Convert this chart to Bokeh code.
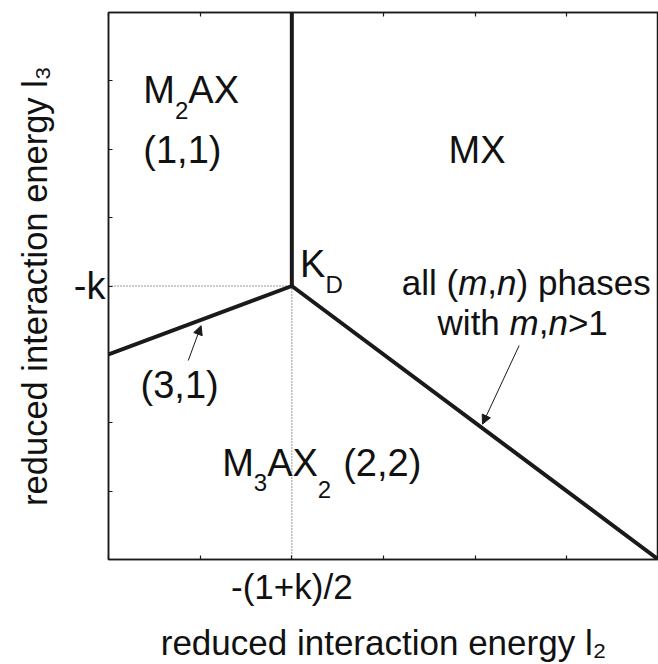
from bokeh.plotting import figure
from bokeh.models import Range1d, FixedTicker, LinearAxis, Label, Arrow, NormalHead
from bokeh.embed import file_html
from bokeh.resources import INLINE

# ---------------- data ----------------
x_ticks = [0, 1, 2, 3, 4, 5, 6]
y_ticks = [0, 1, 2, 3, 4, 5, 6, 7, 8]
x_tick_text = {2: "-(1+k)/2"}
y_tick_text = {4: "-k"}
x_title = "reduced interaction energy l\u2082"
y_title = "reduced interaction energy l\u2083"

# phase boundaries (reduced coordinates)
b31_x = [0, 2]   # (3,1) boundary
b31_y = [3, 4]
b11_x = [2, 2]   # M2AX / MX boundary
b11_y = [4, 8]
bmn_x = [2, 6]   # all (m,n) phases boundary
bmn_y = [4, 0]
guide_h_x = [0, 2]
guide_h_y = [4, 4]
guide_v_x = [2, 2]
guide_v_y = [0, 4]

FONT = "Liberation Sans"
INK = "#1a1a1a"
TXT = "#111111"

p = figure(width=658, height=664, x_range=Range1d(0, 6), y_range=Range1d(0, 8),
           output_backend="svg", toolbar_location=None,
           min_border_left=108, min_border_right=0, min_border_top=12, min_border_bottom=102)
p.xgrid.visible = False
p.ygrid.visible = False
p.outline_line_color = INK
p.outline_line_width = 1.5
p.background_fill_color = "white"
p.border_fill_color = "white"

for ax, ticks, txt in ((p.xaxis[0], x_ticks, x_tick_text), (p.yaxis[0], y_ticks, y_tick_text)):
    ax.ticker = FixedTicker(ticks=ticks, minor_ticks=[])
    ax.major_label_overrides = {t: txt.get(t, "") for t in ticks}
    ax.major_tick_in = 4
    ax.major_tick_out = 0
    ax.minor_tick_line_color = None
    ax.axis_line_color = INK
    ax.axis_line_width = 1.5
    ax.major_tick_line_color = INK
    ax.major_tick_line_width = 1.2
    ax.major_label_text_font = FONT
    ax.major_label_text_color = TXT
    ax.axis_label_text_font = FONT
    ax.axis_label_text_font_style = "normal"
    ax.axis_label_text_color = TXT

p.xaxis.axis_label = x_title
p.yaxis.axis_label = y_title
p.xaxis.axis_label_text_font_size = "35px"
p.yaxis.axis_label_text_font_size = "34.5px"
p.xaxis.major_label_text_font_size = "35px"
p.xaxis.major_label_standoff = 7
p.xaxis.axis_label_standoff = 14
p.yaxis.major_label_text_font_size = "38px"
p.yaxis.major_label_standoff = 3
p.yaxis.axis_label_standoff = 17

top = LinearAxis(ticker=FixedTicker(ticks=x_ticks, minor_ticks=[]), major_tick_in=4, major_tick_out=0,
                 minor_tick_line_color=None, axis_line_color=INK, axis_line_width=1.5,
                 major_tick_line_color=INK, major_tick_line_width=1.2,
                 major_label_text_font_size="0px", major_label_standoff=0,
                 major_label_overrides={t: "" for t in x_ticks})
p.add_layout(top, "above")

# guides
p.line(guide_h_x, guide_h_y, line_color="#333333", line_width=1, line_dash="1 2")
p.line(guide_v_x, guide_v_y, line_color="#333333", line_width=1, line_dash="1 2")
# boundaries
for bx, by in ((b31_x, b31_y), (b11_x, b11_y), (bmn_x, bmn_y)):
    p.line(bx, by, line_color=INK, line_width=4, line_cap="round")

# arrows
p.add_layout(Arrow(x_start=0.87, y_start=2.91, x_end=1.01, y_end=3.42, line_color=INK, line_width=1,
                   end=NormalHead(size=9, fill_color=INK, line_color=INK, line_width=1)))
p.add_layout(Arrow(x_start=4.48, y_start=3.13, x_end=4.08, y_end=1.98, line_color=INK, line_width=1,
                   end=NormalHead(size=9, fill_color=INK, line_color=INK, line_width=1)))

# ---------------- rich text helper ----------------
W = {'a': 556, 'b': 556, 'c': 500, 'd': 556, 'e': 556, 'f': 278, 'g': 556, 'h': 556, 'i': 222,
     'k': 500, 'l': 222, 'm': 833, 'n': 556, 'o': 556, 'p': 556, 'r': 333, 's': 500, 't': 278,
     'u': 556, 'w': 722, 'y': 500, 'A': 667, 'D': 722, 'K': 667, 'M': 833, 'X': 667, ' ': 278,
     '(': 333, ')': 333, ',': 278, '>': 584, '1': 556, '2': 556, '3': 556}


def width(s, size):
    return sum(W.get(c, 556) for c in s) * size / 1000.0


def rich(x, y, pieces):
    """pieces: (text, size px, italic, baseline drop px); (x, y) is the baseline start."""
    adv = 0.0
    for txt, size, italic, drop in pieces:
        p.add_layout(Label(x=x, y=y, x_offset=adv, y_offset=-drop + 0.3465 * size, text=txt,
                           text_font=FONT, text_font_size=f"{size}px",
                           text_font_style="italic" if italic else "normal",
                           text_color=TXT, text_align="left", text_baseline="middle"))
        adv += width(txt, size)


S, s = 38, 24
rich(0.38, 6.68, [("M", S, False, 0), ("2", s, False, 16), ("AX", S, False, 0)])
rich(0.38, 5.80, [("(1,1)", S, False, 0)])
rich(3.71, 5.80, [("MX", S, False, 0)])
rich(2.09, 4.13, [("K", S, False, 0), ("D", s, False, 16)])
rich(3.20, 3.88, [("all (", 35, False, 0), ("m", 35, True, 0), (",", 35, False, 0),
                  ("n", 35, True, 0), (") phases", 35, False, 0)])
rich(3.59, 3.29, [("with ", 35, False, 0), ("m", 35, True, 0), (",", 35, False, 0),
                  ("n", 35, True, 0), (">1", 35, False, 0)])
rich(0.35, 2.36, [("(3,1)", S, False, 0)])
rich(1.24, 1.22, [("M", S, False, 0), ("3", s, False, 15), ("AX", S, False, 0), ("2", s, False, 22)])
rich(2.56, 1.22, [("(2,2)", S, False, 0)])

open("out.html", "w").write(file_html(p, INLINE))
